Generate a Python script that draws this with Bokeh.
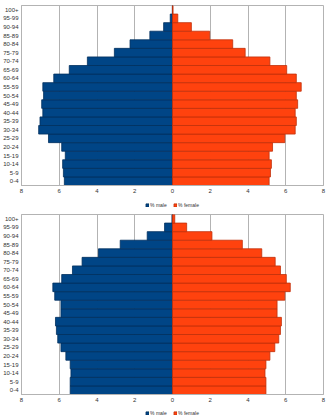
from bokeh.plotting import figure
from bokeh.layouts import column
from bokeh.models import Range1d, FixedTicker, Legend, LegendItem, ColumnDataSource
from bokeh.embed import file_html
from bokeh.resources import INLINE

age_groups = ["0-4", "5-9", "10-14", "15-19", "20-24", "25-29", "30-34", "35-39",
              "40-44", "45-49", "50-54", "55-59", "60-64", "65-69", "70-74",
              "75-79", "80-84", "85-89", "90-94", "95-99", "100+"]

# top pyramid (percent)
male_1 = [5.73, 5.78, 5.82, 5.68, 5.87, 6.57, 7.09, 7.02, 6.87, 6.93, 6.83,
          6.87, 6.29, 5.47, 4.51, 3.08, 2.25, 1.20, 0.47, 0.12, 0.01]
female_1 = [5.12, 5.19, 5.24, 5.12, 5.30, 5.95, 6.50, 6.56, 6.50, 6.63, 6.56,
            6.82, 6.56, 6.05, 5.16, 3.85, 3.19, 1.97, 1.00, 0.28, 0.03]

# bottom pyramid (percent)
male_2 = [5.42, 5.42, 5.38, 5.42, 5.65, 5.91, 6.08, 6.15, 6.20, 5.91, 5.91,
          6.24, 6.34, 5.87, 5.30, 4.79, 3.92, 2.77, 1.34, 0.42, 0.03]
female_2 = [4.95, 4.95, 4.90, 4.95, 5.16, 5.42, 5.63, 5.72, 5.77, 5.54, 5.54,
            5.95, 6.24, 6.03, 5.72, 5.44, 4.73, 3.70, 2.09, 0.75, 0.12]

x_ticks = [-8, -6, -4, -2, 0, 2, 4, 6, 8]
x_tick_labels = ["8", "6", "4", "2", "0", "2", "4", "6", "8"]
series_names = ["% male", "% female"]

MALE_COL = "#004586"
MALE_EDGE = "#00305e"
FEMALE_COL = "#ff420e"
FEMALE_EDGE = "#c0300a"
FONT = "Liberation Sans"
NAN = float("nan")


def pyramid(male, female, height, top_border):
    p = figure(width=332, height=height, y_range=age_groups,
               x_range=Range1d(-8, 8),
               output_backend="svg", toolbar_location=None,
               min_border_left=18, min_border_right=9,
               min_border_top=top_border, min_border_bottom=11)
    src = ColumnDataSource(dict(age=age_groups,
                                mneg=[-v for v in male],
                                f=female))
    p.hbar(y="age", left="mneg", right=0, height=1.0, source=src,
           fill_color=MALE_COL, line_color=MALE_EDGE, line_width=0.8)
    p.hbar(y="age", left=0, right="f", height=1.0, source=src,
           fill_color=FEMALE_COL, line_color=FEMALE_EDGE, line_width=0.8)

    p.xaxis.ticker = FixedTicker(ticks=x_ticks)
    p.xaxis.major_label_overrides = {t: l for t, l in zip(x_ticks, x_tick_labels)}
    p.xgrid.ticker = FixedTicker(ticks=x_ticks)
    p.xgrid.grid_line_color = "#b3b3b3"
    p.ygrid.grid_line_color = None
    for ax in (p.xaxis, p.yaxis):
        ax.axis_line_color = "#b3b3b3"
        ax.major_tick_line_color = None
        ax.minor_tick_line_color = None
        ax.major_tick_out = 0
        ax.major_tick_in = 0
        ax.minor_tick_out = 0
        ax.minor_tick_in = 0
        ax.major_label_text_font = FONT
        ax.major_label_text_font_size = "6px"
        ax.major_label_text_color = "#333333"
    p.xaxis.major_label_standoff = 3
    p.yaxis.major_label_standoff = 3
    p.outline_line_color = "#b3b3b3"
    return p


def legend_strip(height):
    lf = figure(width=332, height=height, x_range=Range1d(0, 1), y_range=Range1d(0, 1),
                output_backend="svg", toolbar_location=None,
                min_border_left=10, min_border_right=0,
                min_border_top=0, min_border_bottom=0)
    lf.axis.visible = False
    lf.grid.grid_line_color = None
    lf.outline_line_color = None
    dummy = ColumnDataSource(dict(y=[NAN], l=[NAN], r=[NAN]))
    rm = lf.hbar(y="y", left="l", right="r", height=1, source=dummy,
                 fill_color=MALE_COL, line_color=MALE_EDGE, line_width=0.8)
    rf = lf.hbar(y="y", left="l", right="r", height=1, source=dummy,
                 fill_color=FEMALE_COL, line_color=FEMALE_EDGE, line_width=0.8)
    legend = Legend(items=[LegendItem(label=series_names[0], renderers=[rm]),
                           LegendItem(label=series_names[1], renderers=[rf])],
                    orientation="horizontal", location="center",
                    label_text_font=FONT, label_text_font_size="5px",
                    label_text_color="#333333",
                    glyph_width=4, glyph_height=4, label_standoff=1,
                    label_height=5, spacing=3, padding=0, margin=0,
                    border_line_color=None, background_fill_alpha=0)
    lf.add_layout(legend, "center")
    return lf


p1 = pyramid(male_1, female_1, 196, 5)
l1 = legend_strip(18)
p2 = pyramid(male_2, female_2, 191, 0)
l2 = legend_strip(15)
layout = column(p1, l1, p2, l2, spacing=0)

open("out.html", "w").write(file_html(layout, INLINE))
